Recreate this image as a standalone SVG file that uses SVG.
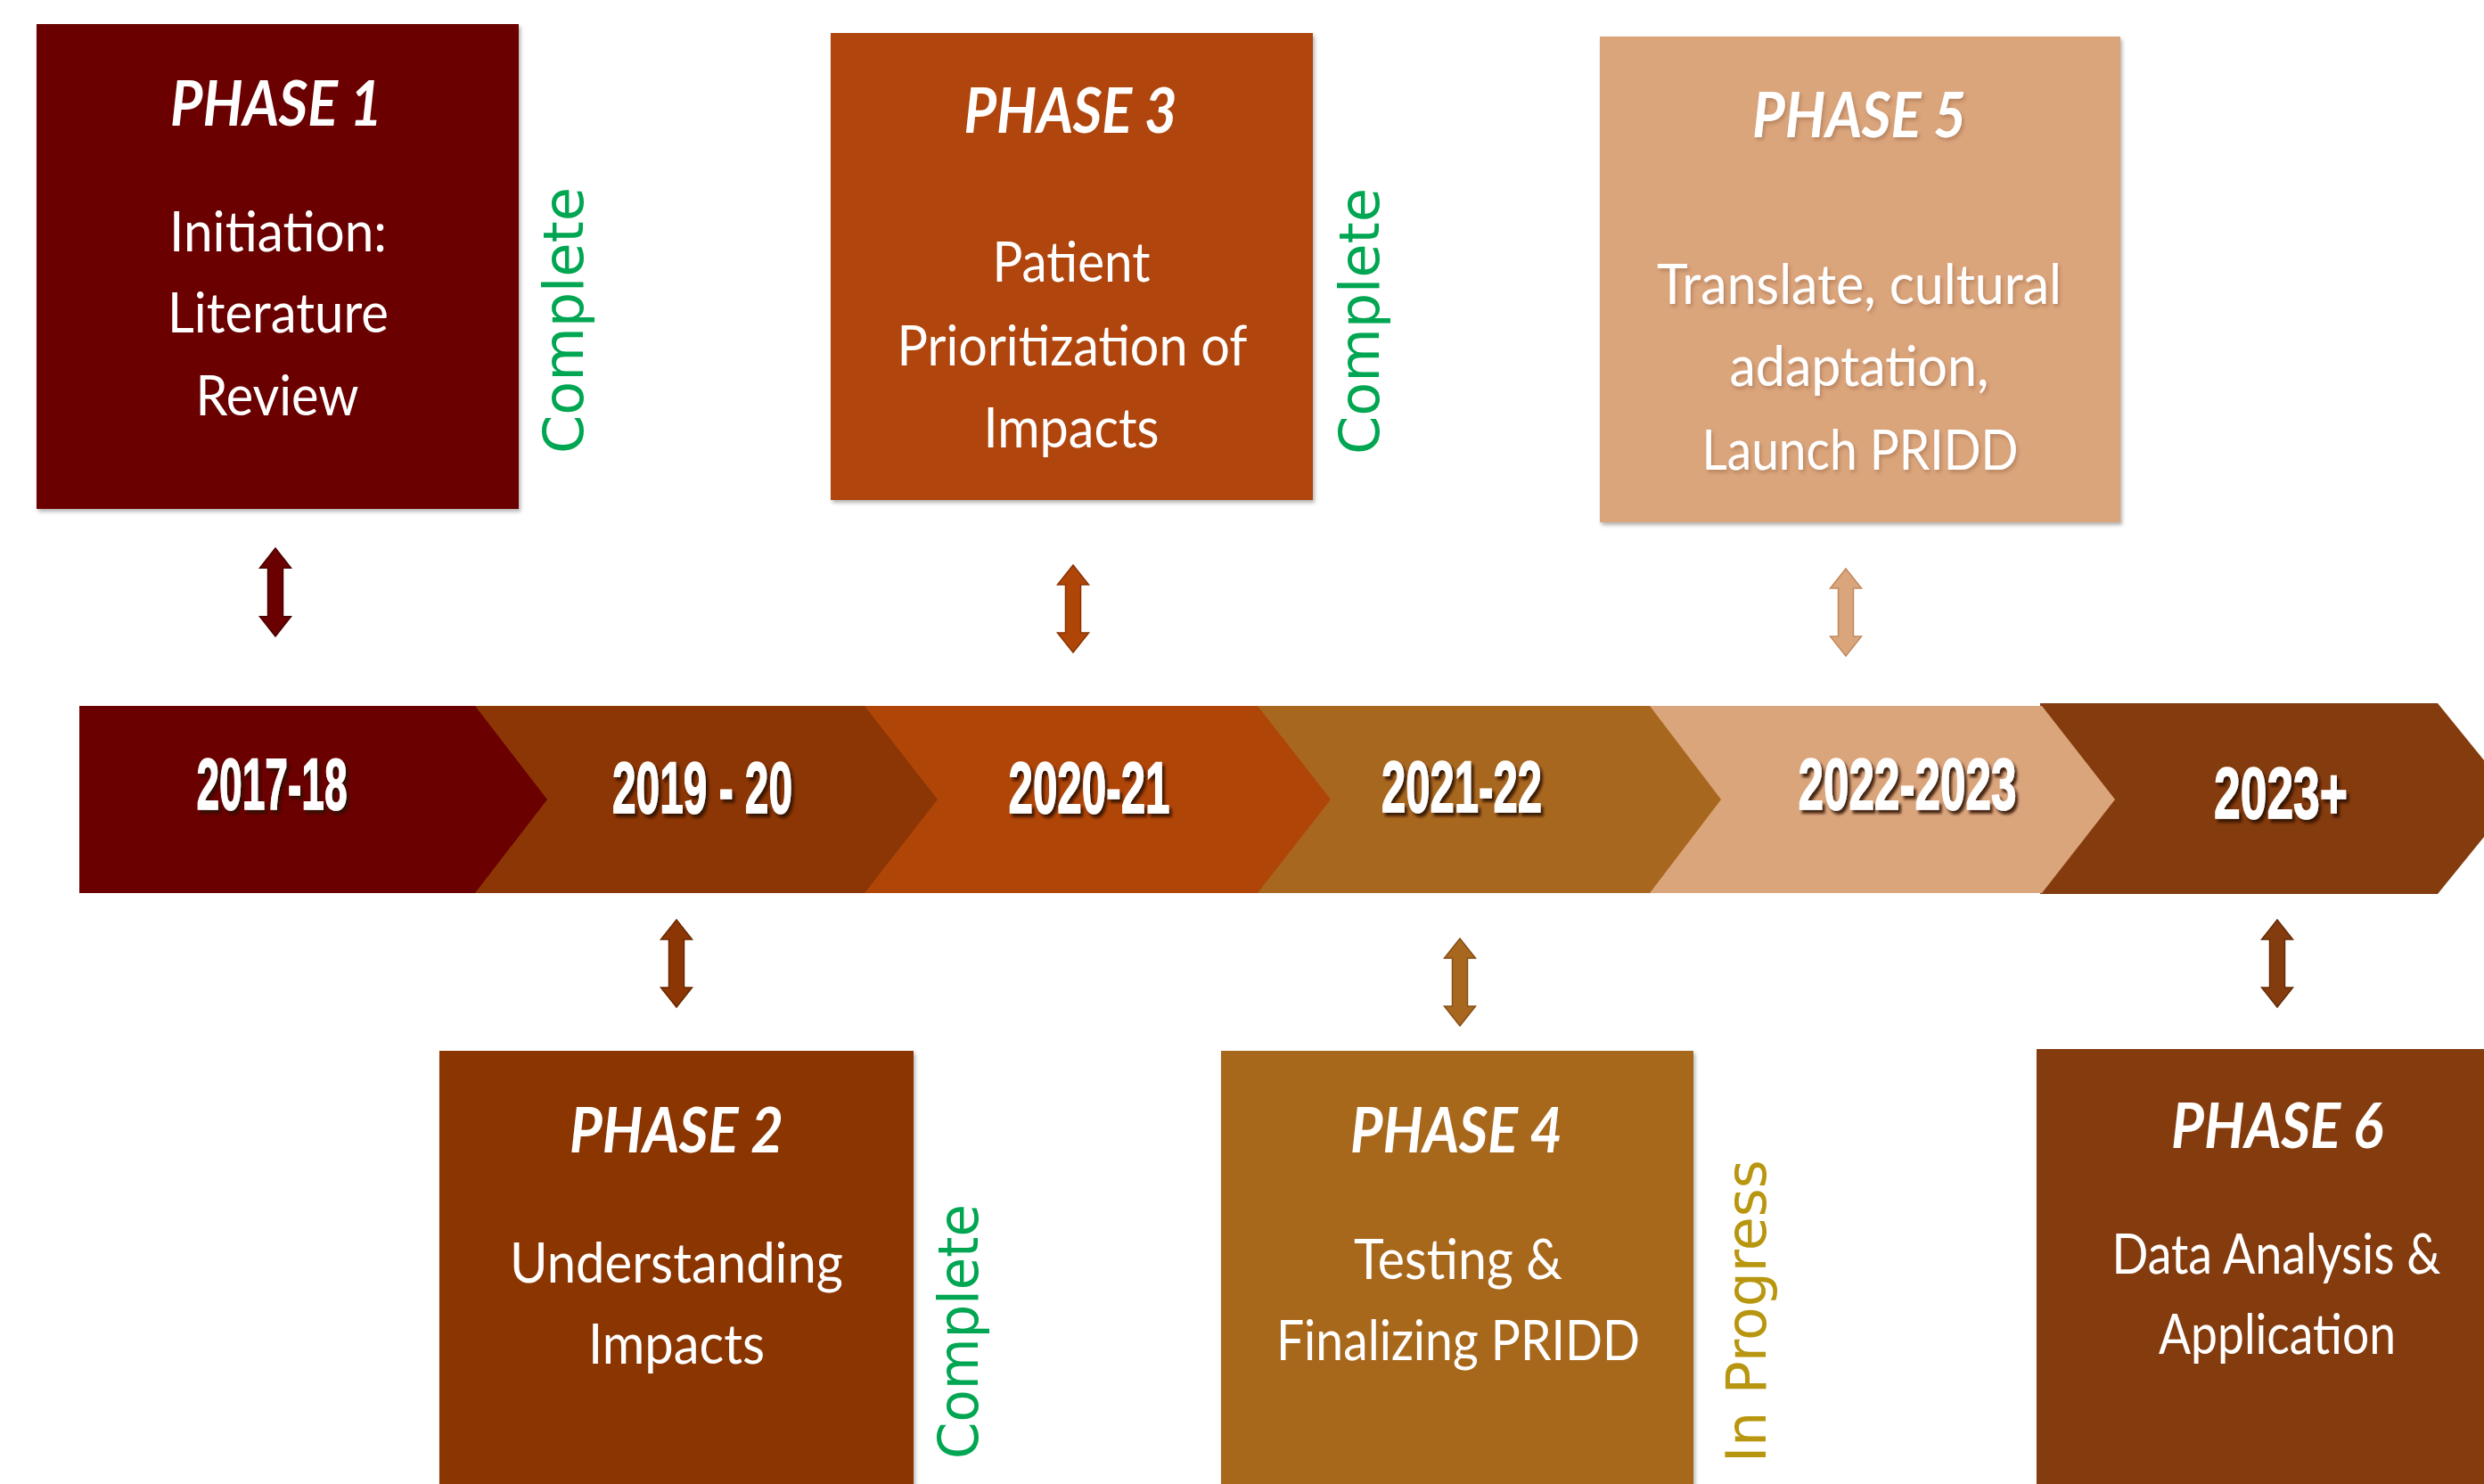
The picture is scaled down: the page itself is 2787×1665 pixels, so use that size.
<svg xmlns="http://www.w3.org/2000/svg" width="2787" height="1665" viewBox="0 0 2787 1665">
<style>
.title{font-family:Lato,"Liberation Sans",sans-serif;font-weight:700;font-style:italic;font-size:70px;fill:#ffffff;text-anchor:middle}
.body{font-family:Lato,"Liberation Sans",sans-serif;font-weight:400;font-size:61px;fill:#ffffff;text-anchor:middle}
.year{font-family:"Liberation Sans",Arial,sans-serif;font-weight:700;font-size:82px;fill:#ffffff;stroke:#ffffff;stroke-width:1.5;text-anchor:middle}
.status{font-family:"DejaVu Sans",Verdana,sans-serif;font-size:62px}
.done{fill:#00A651}
.prog{fill:#B8960F}
.box{filter:url(#boxShadow)}
</style>
<defs>
<filter id="boxShadow" x="-5%" y="-5%" width="115%" height="115%">
<feDropShadow dx="2" dy="3" stdDeviation="2" flood-color="#000" flood-opacity="0.3"/>
</filter>
<filter id="yearShadow" x="-10%" y="-20%" width="130%" height="150%">
<feDropShadow dx="3" dy="4" stdDeviation="1.5" flood-color="#2a0e00" flood-opacity="0.85"/>
</filter>
<filter id="softShadow" x="-10%" y="-20%" width="130%" height="150%">
<feDropShadow dx="2" dy="3" stdDeviation="2" flood-color="#8a5a3a" flood-opacity="0.45"/>
</filter>
<path id="dblArrow" d="M0,0 L17.5,22 L8.5,22 L8.5,76 L17.5,76 L0,98 L-17.5,76 L-8.5,76 L-8.5,22 L-17.5,22 Z"/>
</defs>

<rect x="0" y="0" width="2787" height="1665" fill="#ffffff"/>

<!-- Timeline band -->
<g id="timeline">
<polygon points="2289,789 2735,789 2822,896 2735,1003 2289,1003" fill="#843B0D"/>
<polygon points="1851,792 2291,792 2373,897 2291,1002 1851,1002" fill="#DBA57B"/>
<polygon points="1411,792 1851,792 1931,897 1851,1002 1411,1002" fill="#A8671F"/>
<polygon points="970,792 1411,792 1493,897 1411,1002 970,1002" fill="#B04508"/>
<polygon points="533,792 970,792 1052,897 970,1002 533,1002" fill="#8B3604"/>
<polygon points="89,792 533,792 614,897 533,1002 89,1002" fill="#6B0000"/>
<g filter="url(#yearShadow)">
<text class="year" x="305" y="908" textLength="169" lengthAdjust="spacingAndGlyphs">2017-18</text>
<text class="year" x="788" y="912" textLength="202" lengthAdjust="spacingAndGlyphs">2019 - 20</text>
<text class="year" x="1222" y="912" textLength="181" lengthAdjust="spacingAndGlyphs">2020-21</text>
<text class="year" x="1640" y="911" textLength="180" lengthAdjust="spacingAndGlyphs">2021-22</text>
<text class="year" x="2140" y="908" textLength="245" lengthAdjust="spacingAndGlyphs">2022-2023</text>
<text class="year" x="2559" y="918" textLength="150" lengthAdjust="spacingAndGlyphs">2023+</text>
</g>
</g>

<!-- Phase 1 -->
<g id="phase1">
<rect class="box" x="41" y="27" width="541" height="544" fill="#6B0000"/>
<text class="title" x="310" y="141" textLength="238" lengthAdjust="spacingAndGlyphs">PHASE 1</text>
<text class="body" x="312" y="282" textLength="244" lengthAdjust="spacingAndGlyphs">Initiation:</text>
<text class="body" x="312" y="373" textLength="248" lengthAdjust="spacingAndGlyphs">Literature</text>
<text class="body" x="311" y="466" textLength="183" lengthAdjust="spacingAndGlyphs">Review</text>
<text class="status done" transform="translate(654,509) rotate(-90)" textLength="299" lengthAdjust="spacingAndGlyphs">Complete</text>
</g>

<!-- Phase 3 -->
<g id="phase3">
<rect class="box" x="932" y="37" width="541" height="524" fill="#B04508"/>
<text class="title" x="1201" y="149" textLength="239" lengthAdjust="spacingAndGlyphs">PHASE 3</text>
<text class="body" x="1202" y="316" textLength="177" lengthAdjust="spacingAndGlyphs">Patient</text>
<text class="body" x="1203" y="410" textLength="393" lengthAdjust="spacingAndGlyphs">Prioritization of</text>
<text class="body" x="1202" y="502" textLength="197" lengthAdjust="spacingAndGlyphs">Impacts</text>
<text class="status done" transform="translate(1547,510) rotate(-90)" textLength="299" lengthAdjust="spacingAndGlyphs">Complete</text>
</g>

<!-- Phase 5 -->
<g id="phase5">
<rect class="box" x="1795" y="41" width="584" height="545" fill="#DBA57B"/>
<g filter="url(#softShadow)">
<text class="title" x="2086" y="154" textLength="240" lengthAdjust="spacingAndGlyphs">PHASE 5</text>
<text class="body" x="2086" y="341" textLength="454" lengthAdjust="spacingAndGlyphs">Translate, cultural</text>
<text class="body" x="2086" y="433" textLength="291" lengthAdjust="spacingAndGlyphs">adaptation,</text>
<text class="body" x="2087" y="527" textLength="355" lengthAdjust="spacingAndGlyphs">Launch PRIDD</text>
</g>
</g>

<!-- Phase 2 -->
<g id="phase2">
<rect class="box" x="493" y="1179" width="532" height="500" fill="#8B3604"/>
<text class="title" x="759" y="1293" textLength="240" lengthAdjust="spacingAndGlyphs">PHASE 2</text>
<text class="body" x="759" y="1439" textLength="374" lengthAdjust="spacingAndGlyphs">Understanding</text>
<text class="body" x="759" y="1530" textLength="198" lengthAdjust="spacingAndGlyphs">Impacts</text>
<text class="status done" transform="translate(1097,1637) rotate(-90)" textLength="286" lengthAdjust="spacingAndGlyphs">Complete</text>
</g>

<!-- Phase 4 -->
<g id="phase4">
<rect class="box" x="1370" y="1179" width="530" height="500" fill="#A8671F"/>
<text class="title" x="1634" y="1293" textLength="238" lengthAdjust="spacingAndGlyphs">PHASE 4</text>
<text class="body" x="1636" y="1435" textLength="234" lengthAdjust="spacingAndGlyphs">Testing &amp;</text>
<text class="body" x="1636" y="1526" textLength="408" lengthAdjust="spacingAndGlyphs">Finalizing PRIDD</text>
<text class="status prog" transform="translate(1981,1641) rotate(-90)" textLength="340" lengthAdjust="spacingAndGlyphs">In Progress</text>
</g>

<!-- Phase 6 -->
<g id="phase6">
<rect class="box" x="2285" y="1177" width="545" height="500" fill="#843B0D"/>
<text class="title" x="2555" y="1288" textLength="238" lengthAdjust="spacingAndGlyphs">PHASE 6</text>
<text class="body" x="2554" y="1429" textLength="369" lengthAdjust="spacingAndGlyphs">Data Analysis &amp;</text>
<text class="body" x="2555" y="1519" textLength="266" lengthAdjust="spacingAndGlyphs">Application</text>
</g>

<!-- Connectors -->
<g id="connectors" stroke-width="1.5" stroke-linejoin="miter">
<use href="#dblArrow" transform="translate(309,615) scale(1,1.01)" fill="#6B0000" stroke="#4a0000"/>
<use href="#dblArrow" transform="translate(1204,634)" fill="#B04508" stroke="#8a3300"/>
<use href="#dblArrow" transform="translate(2071,638)" fill="#DBA57B" stroke="#c08a60"/>
<use href="#dblArrow" transform="translate(759,1032)" fill="#8B3604" stroke="#6a2800"/>
<use href="#dblArrow" transform="translate(1638,1053)" fill="#A8671F" stroke="#865015"/>
<use href="#dblArrow" transform="translate(2555,1032)" fill="#843B0D" stroke="#652c08"/>
</g>
</svg>
